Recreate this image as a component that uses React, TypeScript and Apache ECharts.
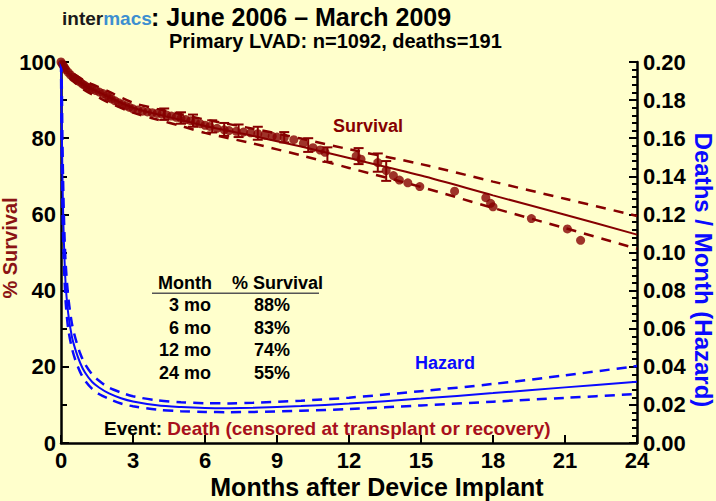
import React, { useEffect, useRef } from "react";
import * as echarts from "echarts";

// ---------- data ----------
const xTicks = [0, 3, 6, 9, 12, 15, 18, 21, 24];

// Kaplan-Meier style observed survival points (month, % survival)
const dotMonths = [
  0.0, 0.05, 0.1, 0.15, 0.2, 0.3, 0.4, 0.5, 0.6, 0.7, 0.8, 0.9, 1.0, 1.1, 1.2, 1.3, 1.45, 1.6, 1.75, 1.9,
  2.0, 2.1, 2.25, 2.4, 2.55, 2.7, 2.85, 3.0, 3.2, 3.4, 3.6, 3.8, 4.0, 4.2, 4.4, 4.6, 4.8, 5.0, 5.2, 5.4,
  5.6, 5.8, 6.0, 6.2, 6.5, 6.8, 7.0, 7.3, 7.6, 7.9, 8.2, 8.5, 8.8, 9.0, 9.3, 9.7, 10.1, 10.5, 10.8, 11.0,
  12.3, 12.5, 13.2, 13.55, 13.85, 14.1, 14.45, 14.95, 16.4, 17.7, 17.9, 18.0, 19.6, 21.1, 21.65,
];
const dotValues = [
  100, 99.5, 99, 98.5, 98, 97.3, 96.6, 96, 95.6, 95.2, 94.7, 94.2, 93.8, 93.4, 93.1, 92.8, 92.5, 92.1, 91.7, 91.2,
  90.7, 90.3, 89.8, 89.3, 88.9, 88.5, 88.1, 87.7, 87.4, 87.1, 86.9, 86.7, 86.5, 86.3, 86.1, 85.8, 85.5, 85.2, 84.9, 84.6,
  84.2, 83.8, 83.4, 83.1, 82.6, 82.2, 82.0, 81.8, 81.6, 81.4, 81.2, 80.8, 80.5, 80.3, 80.1, 79.6, 78.7, 77.5, 76.9, 76.3,
  75.3, 74.5, 73.6, 71.5, 70.2, 69.0, 68.3, 67.3, 66.1, 64.4, 62.9, 62.0, 58.9, 56.2, 53.2,
];

// error bars on selected observed points
const errMonths = [4.3, 5.0, 5.5, 6.3, 6.8, 7.4, 8.2, 9.3, 10.3, 11.1, 12.4, 13.2, 13.55];
const errLow = [84.8, 83.8, 83.0, 81.5, 80.6, 80.3, 79.6, 78.9, 76.4, 73.8, 73.2, 71.2, 68.8];
const errHigh = [87.8, 86.8, 86.2, 84.7, 84.0, 83.6, 83.0, 81.6, 80.0, 77.6, 77.4, 76.0, 74.0];

// parametric survival curve with confidence limits
const survMonths = [0, 0.25, 0.5, 1, 1.5, 2, 3, 4, 5, 6, 8, 10, 12, 15, 18, 21, 24];
const survCurve = [100, 97.5, 96, 93.8, 92.3, 90.8, 88, 86.3, 84.8, 83.2, 80.6, 77.8, 74.8, 70.2, 65, 59.9, 54.7];
const survUpper = [100, 98.2, 97, 95, 93.6, 92.2, 89.3, 87.7, 86.3, 84.9, 82.5, 79.9, 77.1, 73.2, 68.6, 64.1, 59.6];
const survLower = [100, 96.7, 95, 92.5, 90.9, 89.3, 86.7, 84.9, 83.2, 81.4, 78.6, 75.5, 72.2, 67.2, 61.7, 56.4, 51.0];

// hazard (deaths / month) with confidence limits
const hazMonths = [0.0, 0.03, 0.06, 0.1, 0.15, 0.2, 0.3, 0.45, 0.6, 0.8, 1.0, 1.3, 1.6, 2, 2.5, 3, 4, 5, 6, 7, 8, 10, 12, 15, 18, 21, 24];
const hazCurve = [0.2, 0.17, 0.14, 0.115, 0.095, 0.082, 0.068, 0.056, 0.049, 0.042, 0.037, 0.032, 0.029, 0.026, 0.0235, 0.0218, 0.0198, 0.0189, 0.0184, 0.0183, 0.0185, 0.0194, 0.0207, 0.0233, 0.0262, 0.0292, 0.0322];
const hazUpper = [0.2, 0.19, 0.158, 0.13, 0.107, 0.093, 0.077, 0.063, 0.055, 0.047, 0.0415, 0.036, 0.0325, 0.029, 0.0265, 0.0245, 0.0224, 0.0214, 0.0209, 0.0208, 0.0211, 0.0222, 0.0238, 0.0272, 0.031, 0.0355, 0.0404];
const hazLower = [0.2, 0.152, 0.125, 0.102, 0.085, 0.073, 0.06, 0.05, 0.0435, 0.0372, 0.0328, 0.0284, 0.0256, 0.0232, 0.0207, 0.0193, 0.0175, 0.0167, 0.0163, 0.0162, 0.0163, 0.0169, 0.0178, 0.0197, 0.0217, 0.0237, 0.0257];

// summary table
const tableMonths = ["3 mo", "6 mo", "12 mo", "24 mo"];
const tableSurvival = ["88%", "83%", "74%", "55%"];

// ---------- styles ----------
const FONT = "'Liberation Sans', Arial, Helvetica, sans-serif";
const RED = "#860000";
const BLUE = "#0a0aff";
const BG = "#ffffcc";

const zip = (xs: number[], ys: number[]) => xs.map((x, i) => [x, ys[i]]);

export default function App() {
  const ref = useRef<HTMLDivElement>(null);

  useEffect(() => {
    if (!ref.current) return;
    const chart = echarts.init(ref.current, null, { renderer: "svg" });

    const axisLine = { show: true, lineStyle: { color: "#000", width: 2.5 } };
    const labelStyle = { color: "#000", fontSize: 22, fontWeight: "bold" as const, fontFamily: FONT };

    const rowY = [305, 328, 350, 373];
    const tableGraphics: any[] = [];
    tableMonths.forEach((m, i) => {
      tableGraphics.push({
        type: "text", x: 211, y: rowY[i],
        style: { text: m, font: `bold 18px ${FONT}`, fill: "#000", align: "right", verticalAlign: "middle" },
      });
      tableGraphics.push({
        type: "text", x: 254, y: rowY[i],
        style: { text: tableSurvival[i], font: `bold 18px ${FONT}`, fill: "#000", align: "left", verticalAlign: "middle" },
      });
    });

    const option: any = {
      animation: false,
      backgroundColor: BG,
      grid: { left: 61, right: 79, top: 62, bottom: 58, containLabel: false },
      xAxis: {
        type: "value", min: 0, max: 24, interval: 3,
        axisLine,
        axisTick: { show: true, inside: true, length: 8, lineStyle: { color: "#000", width: 2 } },
        minorTick: { show: false },
        splitLine: { show: false },
        axisLabel: { ...labelStyle, margin: 6 },
      },
      yAxis: [
        {
          type: "value", min: 0, max: 100, interval: 20, position: "left",
          axisLine,
          axisTick: { show: true, inside: true, length: 8, lineStyle: { color: "#000", width: 2 } },
          minorTick: { show: true, splitNumber: 2, length: 6, lineStyle: { color: "#000", width: 2 } },
          splitLine: { show: false },
          axisLabel: { ...labelStyle, margin: 5 },
        },
        {
          type: "value", min: 0, max: 0.2, interval: 0.02, position: "right",
          axisLine,
          axisTick: { show: true, inside: true, length: 8, lineStyle: { color: "#000", width: 2 } },
          minorTick: { show: true, splitNumber: 5, length: 5, lineStyle: { color: "#000", width: 2 } },
          splitLine: { show: false },
          axisLabel: { ...labelStyle, margin: 6, formatter: (v: number) => v.toFixed(2) },
        },
      ],
      series: [
        {
          type: "line", yAxisIndex: 1, data: zip(hazMonths, hazUpper), smooth: 0.3, symbol: "none",
          lineStyle: { color: BLUE, width: 2.5, type: [10, 7] },
        },
        {
          type: "line", yAxisIndex: 1, data: zip(hazMonths, hazLower), smooth: 0.3, symbol: "none",
          lineStyle: { color: BLUE, width: 2.5, type: [10, 7] },
        },
        {
          type: "line", yAxisIndex: 1, data: zip(hazMonths, hazCurve), smooth: 0.3, symbol: "none",
          lineStyle: { color: BLUE, width: 2 },
        },
        {
          type: "line", data: zip(survMonths, survUpper), smooth: 0.3, symbol: "none",
          lineStyle: { color: RED, width: 2.5, type: [10, 8] },
        },
        {
          type: "line", data: zip(survMonths, survLower), smooth: 0.3, symbol: "none",
          lineStyle: { color: RED, width: 2.5, type: [10, 8] },
        },
        {
          type: "line", data: zip(survMonths, survCurve), smooth: 0.3, symbol: "none",
          lineStyle: { color: RED, width: 2 },
        },
        {
          type: "custom",
          data: errMonths.map((m, i) => [m, errLow[i], errHigh[i]]),
          encode: { x: 0, y: [1, 2] },
          renderItem: (params: any, api: any) => {
            const x = api.value(0);
            const lo = api.coord([x, api.value(1)]);
            const hi = api.coord([x, api.value(2)]);
            const st = { stroke: RED, lineWidth: 2 };
            return {
              type: "group",
              children: [
                { type: "line", shape: { x1: lo[0], y1: lo[1], x2: hi[0], y2: hi[1] }, style: st },
                { type: "line", shape: { x1: lo[0] - 5, y1: lo[1], x2: lo[0] + 5, y2: lo[1] }, style: st },
                { type: "line", shape: { x1: hi[0] - 5, y1: hi[1], x2: hi[0] + 5, y2: hi[1] }, style: st },
              ],
            };
          },
        },
        {
          type: "scatter", data: zip(dotMonths, dotValues), symbol: "circle", symbolSize: 9,
          itemStyle: { color: RED },
        },
      ],
      graphic: [
        {
          type: "text", x: 62, y: 18,
          style: {
            text: "{a|inter}{b|macs}",
            verticalAlign: "middle",
            rich: {
              a: { font: `bold 19px ${FONT}`, fill: "#1a1a1a" },
              b: { font: `bold 19px ${FONT}`, fill: "#3d8fd0" },
            },
          },
        },
        {
          type: "text", x: 151, y: 17,
          style: { text: ": June 2006 \u2013 March 2009", font: `bold 25px ${FONT}`, fill: "#000", verticalAlign: "middle" },
        },
        {
          type: "text", x: 169, y: 41,
          style: { text: "Primary LVAD: n=1092, deaths=191", font: `bold 20px ${FONT}`, fill: "#000", verticalAlign: "middle" },
        },
        {
          type: "text", x: 10, y: 248, rotation: Math.PI / 2,
          style: { text: "% Survival", font: `bold 20px ${FONT}`, fill: "#8b1414", align: "center", verticalAlign: "middle" },
        },
        {
          type: "text", x: 703, y: 270, rotation: -Math.PI / 2,
          style: { text: "Deaths / Month (Hazard)", font: `bold 24px ${FONT}`, fill: BLUE, align: "center", verticalAlign: "middle" },
        },
        {
          type: "text", x: 377, y: 487,
          style: { text: "Months after Device Implant", font: `bold 25px ${FONT}`, fill: "#000", align: "center", verticalAlign: "middle" },
        },
        {
          type: "text", x: 333, y: 126,
          style: { text: "Survival", font: `bold 18px ${FONT}`, fill: RED, verticalAlign: "middle" },
        },
        {
          type: "text", x: 415, y: 363,
          style: { text: "Hazard", font: `bold 18px ${FONT}`, fill: BLUE, verticalAlign: "middle" },
        },
        {
          type: "text", x: 212, y: 283,
          style: { text: "Month", font: `bold 18px ${FONT}`, fill: "#000", align: "right", verticalAlign: "middle" },
        },
        {
          type: "text", x: 232, y: 283,
          style: { text: "% Survival", font: `bold 18px ${FONT}`, fill: "#000", align: "left", verticalAlign: "middle" },
        },
        {
          type: "rect", shape: { x: 152, y: 292.5, width: 167, height: 1.5 },
          style: { fill: "#555" },
        },
        ...tableGraphics,
        {
          type: "text", x: 104, y: 428,
          style: {
            text: "{a|Event: }{b|Death (censored at transplant or recovery)}",
            verticalAlign: "middle",
            rich: {
              a: { font: `bold 19px ${FONT}`, fill: "#000" },
              b: { font: `bold 19px ${FONT}`, fill: "#a8101c" },
            },
          },
        },
      ],
    };

    chart.setOption(option);
    return () => chart.dispose();
  }, []);

  return (
    <div
      ref={ref}
      style={{ position: "fixed", left: 0, top: 0, width: 716, height: 501, background: BG }}
    />
  );
}
